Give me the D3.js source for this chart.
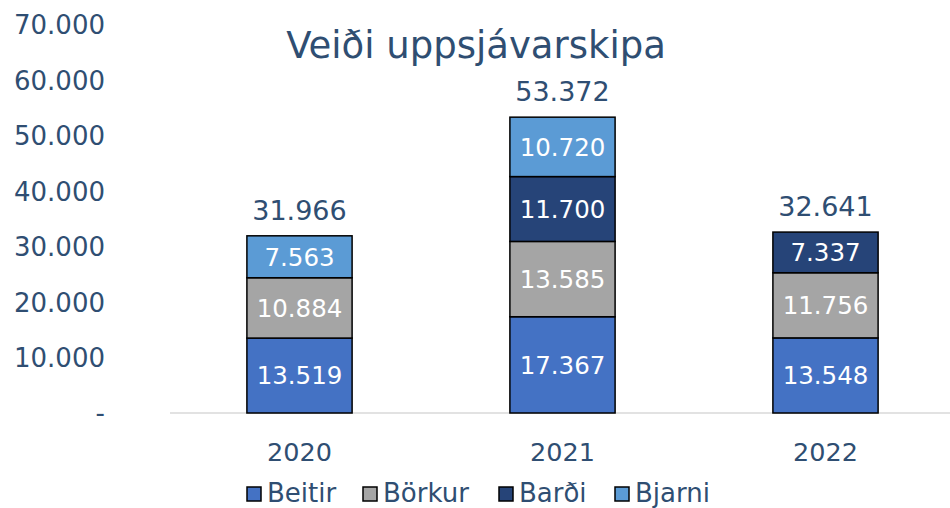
<!DOCTYPE html>
<html lang="is">
<head>
<meta charset="UTF-8">
<title>Veiði uppsjávarskipa</title>
<style>
  body { margin: 0; background: #fff; }
  text { font-family: "DejaVu Sans", Verdana, sans-serif; }
</style>
</head>
<body>
<script src="https://cdn.jsdelivr.net/npm/d3@7"></script>
<script>
const width = 950, height = 508

// data
const years = ["2020", "2021", "2022"]
const ships = ["Beitir", "Börkur", "Barði", "Bjarni"]
const beitir = [13519, 17367, 13548]
const borkur = [10884, 13585, 11756]
const bardi = [0, 11700, 7337]
const bjarni = [7563, 10720, 0]
const yTicks = [0, 10000, 20000, 30000, 40000, 50000, 60000, 70000]
const colors = ["#4472C4", "#A5A5A5", "#264478", "#5B9BD5"]
const textColor = "#2F4E72"

const rows = years.map((y, i) => ({
  year: y, "Beitir": beitir[i], "Börkur": borkur[i], "Barði": bardi[i], "Bjarni": bjarni[i]
}))
const stacked = d3.stack().keys(ships)(rows)

const svg = d3.select("body").append("svg")
  .attr("width", width).attr("height", height)

const x = d3.scaleBand().domain(years).range([168, 957]).paddingInner(0.6).paddingOuter(0.3)
const y = d3.scaleLinear().domain([0, 70000]).range([413, 25])
const fmt = v => v === 0 ? "-" : d3.format(",")(v).replace(/,/g, ".")

// title
svg.append("text")
  .attr("x", 476).attr("y", 58)
  .attr("text-anchor", "middle")
  .attr("font-size", 37).attr("fill", textColor)
  .text("Veiði uppsjávarskipa")

// y axis labels
svg.append("g").selectAll("text").data(yTicks).enter().append("text")
  .attr("x", 105).attr("y", d => y(d)).attr("dy", "0.36em")
  .attr("text-anchor", "end").attr("font-size", 26).attr("fill", textColor)
  .text(fmt)

// baseline
svg.append("line")
  .attr("x1", 170).attr("x2", 950).attr("y1", y(0)).attr("y2", y(0))
  .attr("stroke", "#D9D9D9").attr("stroke-width", 1.5)

// bars
const layer = svg.append("g").selectAll("g").data(stacked).enter().append("g")
  .attr("fill", (d, i) => colors[i])

layer.selectAll("rect").data(d => d.filter(s => s[1] > s[0])).enter().append("rect")
  .attr("x", d => x(d.data.year))
  .attr("y", d => y(d[1]))
  .attr("width", x.bandwidth())
  .attr("height", d => y(d[0]) - y(d[1]))
  .attr("stroke", "#000").attr("stroke-width", 1.5)

layer.selectAll("text").data(d => d.filter(s => s[1] > s[0])).enter().append("text")
  .attr("x", d => x(d.data.year) + x.bandwidth() / 2)
  .attr("y", d => (y(d[0]) + y(d[1])) / 2).attr("dy", "0.36em")
  .attr("text-anchor", "middle").attr("font-size", 24.5).attr("fill", "#fff")
  .text(d => fmt(d[1] - d[0]))

// totals
svg.append("g").selectAll("text").data(rows).enter().append("text")
  .attr("x", d => x(d.year) + x.bandwidth() / 2)
  .attr("y", d => y(ships.reduce((s, k) => s + d[k], 0)) - 16)
  .attr("text-anchor", "middle").attr("font-size", 27).attr("fill", textColor)
  .text(d => fmt(ships.reduce((s, k) => s + d[k], 0)))

// x labels
svg.append("g").selectAll("text").data(years).enter().append("text")
  .attr("x", d => x(d) + x.bandwidth() / 2).attr("y", 461)
  .attr("text-anchor", "middle").attr("font-size", 25.5).attr("fill", textColor)
  .text(d => d)

// legend
const legX = [247, 363, 499, 615]
const leg = svg.append("g").selectAll("g").data(ships).enter().append("g")
  .attr("transform", (d, i) => `translate(${legX[i]},0)`)
leg.append("rect")
  .attr("x", 0).attr("y", 487).attr("width", 14).attr("height", 14)
  .attr("fill", (d, i) => colors[i]).attr("stroke", "#000").attr("stroke-width", 1.5)
leg.append("text")
  .attr("x", 20).attr("y", 502)
  .attr("font-size", 26).attr("fill", textColor)
  .text(d => d)
</script>
</body>
</html>
